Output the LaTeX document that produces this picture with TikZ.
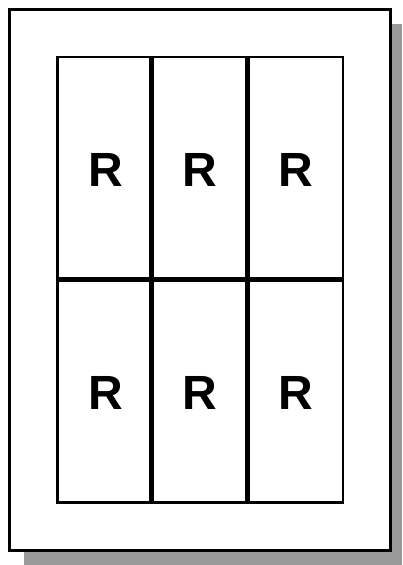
\documentclass[tikz,border=0pt]{standalone}
\usepackage{fontspec}
\setmainfont{Liberation Sans}
\definecolor{sombra}{gray}{0.6}
\begin{document}
\begin{tikzpicture}[x=1pt, y=-1pt]
  \useasboundingbox (0,0) rectangle (402,565);
  % Sombra de la hoja
  \fill[sombra] (24,24) rectangle (402,565);
  % Hoja
  \draw[line width=3pt, fill=white]
    (9.5,9.5) rectangle (390,550);
  % Marco de la rejilla
  \draw[line width=2.5pt] (57.5,57) rectangle (343,502.5);
  % Divisiones interiores
  \draw[line width=5pt] (151,57) -- (151,502.5);
  \draw[line width=5pt] (247.5,57) -- (247.5,502.5);
  \draw[line width=5pt] (57.5,279.7) -- (343,279.7);

  % Etiquetas de las celdas
  \tikzset{letra/.style={font=\bfseries\fontsize{48}{48}\selectfont, inner sep=0pt}}
  \node[letra] (r1) at (106,170) {R};
  \node[letra] (r2) at (200,170) {R};
  \node[letra] (r3) at (296,170) {R};
  \node[letra] (r4) at (106,393) {R};
  \node[letra] (r5) at (200,393) {R};
  \node[letra] (r6) at (296,393) {R};
\end{tikzpicture}
\end{document}
